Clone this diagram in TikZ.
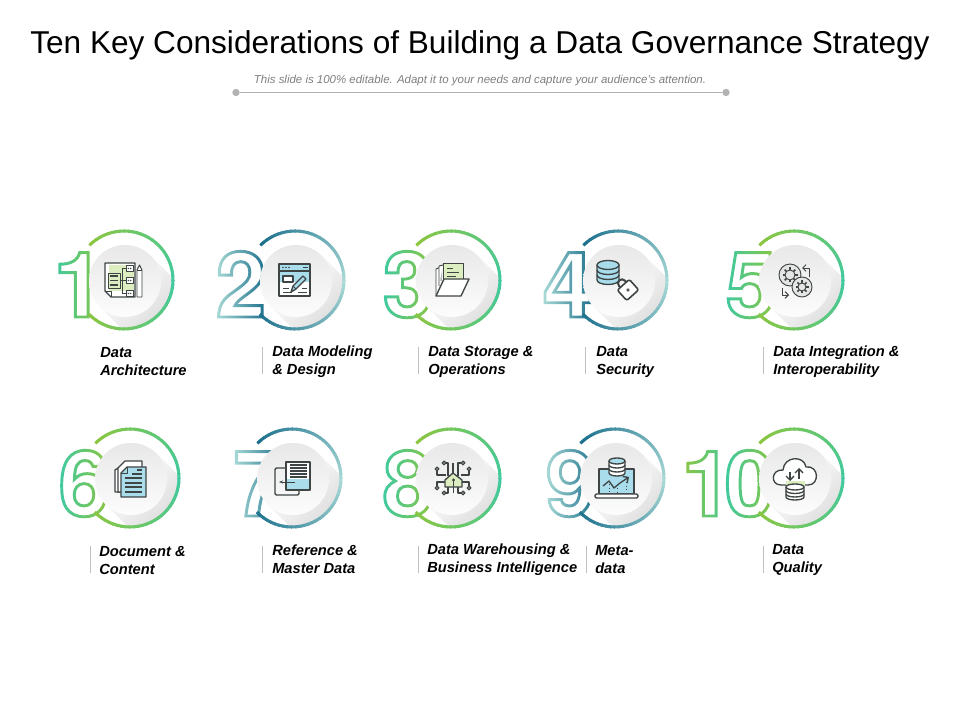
\documentclass[tikz,border=0pt]{standalone}
\usepackage{fontspec}
\setmainfont{Liberation Sans}
\newfontfamily\digitfont{TeX Gyre Heros}
\usetikzlibrary{arrows.meta}

\definecolor{limeA}{HTML}{8CC63F}
\definecolor{tealA}{HTML}{3FC9A0}
\definecolor{blueA}{HTML}{1B6F8C}
\definecolor{blueB}{HTML}{A9DAD6}
\definecolor{icondark}{HTML}{3F4444}
\definecolor{iconblue}{HTML}{A9DDEB}
\definecolor{icongreen}{HTML}{DCEEBF}
\definecolor{subgray}{HTML}{7F7F7F}

\tikzset{
  ringline/.style={line width=2.3pt},
  discnode/.style={circle,minimum size=54pt,inner sep=0pt,top color=black!9,bottom color=black!1},
  shadowfill/.style={left color=white,right color=black!25,shading angle=45},
  digit/.style={anchor=base,inner sep=0pt,font=\digitfont\bfseries\fontsize{68}{68}\selectfont},
  lbl/.style={anchor=west,align=left,inner sep=0pt,font=\bfseries\itshape\fontsize{11}{13.5}\selectfont},
  sepline/.style={draw=black!25,line width=.6pt},
  icon/.style={draw=icondark,line width=1pt,line join=round},
  iconthin/.style={draw=icondark,line width=.7pt,line join=round},
  enddot/.style={circle,fill=black!30,minimum size=5.5pt,inner sep=0pt},
}

% outlined digit, then a colour sweep laid over it
\newcommand{\numdigit}[6]{%
  \node[digit] (#1) at (#2,#3) {\special{pdf:code 1 Tr 2.2 w}#4\special{pdf:code 0 Tr 1 w}};
  \shade[left color=#5,right color=#6,blend mode=screen] (#2-25,#3-6) rectangle (#2+25,#3+76);
}

% shadow, open ring and disc
\newcommand{\ringitem}[5]{%
  \begin{scope}[shift={(#2,#3)}]
    \begin{scope}
      \clip (0,0) circle (48);
      \shade[shadowfill] (26.5,24.5) -- (-24.5,-26.5) -- (45,-96) -- (96,-45) -- cycle;
    \end{scope}
    \foreach \a in {135,130,...,-130}{
      \pgfmathsetmacro{\mixv}{abs(\a)/135*100}
      \draw[ringline,#4!\mixv!#5] (\a:49) arc[start angle=\a,end angle=\a-6,radius=49];
    }
    \node[discnode] (#1) at (1,-1) {};
  \end{scope}
}

\begin{document}
\begin{tikzpicture}[x=.75pt,y=.75pt]
  \useasboundingbox (0,0) rectangle (960,720);
  \fill[white] (0,0) rectangle (960,720);

  % Title
  \node[inner sep=0pt,font=\fontsize{23.7}{28}\selectfont] (title) at (480,675) {Ten Key Considerations of Building a Data Governance Strategy};
  \node[inner sep=0pt,text=subgray,font=\itshape\fontsize{8.6}{10}\selectfont] (subtitle) at (480,639) {This slide is 100\% editable. Adapt it to your needs and capture your audience's attention.};
  \node[enddot] (dotl) at (236,627.5) {};
  \node[enddot] (dotr) at (726,627.5) {};
  \draw[black!30,line width=.7pt] (dotl) -- (dotr);

  % Digits
  \numdigit{num1}{79}{403}{1}{tealA}{limeA}
  \numdigit{num2}{241}{403}{2}{blueB}{blueA}
  \numdigit{num3}{408}{403}{3}{tealA}{limeA}
  \numdigit{num4}{568}{403}{4}{blueB}{blueA}
  \numdigit{num5}{751}{403}{5}{tealA}{limeA}
  \numdigit{num6}{84}{204}{6}{tealA}{limeA}
  \numdigit{num7}{259}{204}{7}{blueB}{blueA}
  \numdigit{num8}{408}{204}{8}{tealA}{limeA}
  \numdigit{num9}{571}{204}{9}{blueB}{blueA}
  \numdigit{num10a}{707}{204}{1}{limeA}{tealA}
  \numdigit{num10b}{750}{204}{0}{tealA}{limeA}

  % Rings
  \ringitem{disc1}{124}{440}{limeA}{tealA}
  \ringitem{disc2}{295}{440}{blueA}{blueB}
  \ringitem{disc3}{451}{440}{limeA}{tealA}
  \ringitem{disc4}{618}{440}{blueA}{blueB}
  \ringitem{disc5}{794}{440}{limeA}{tealA}
  \ringitem{disc6}{130}{242}{limeA}{tealA}
  \ringitem{disc7}{292}{242}{blueA}{blueB}
  \ringitem{disc8}{451}{242}{limeA}{tealA}
  \ringitem{disc9}{615}{242}{blueA}{blueB}
  \ringitem{disc10}{794}{242}{limeA}{tealA}

  % Labels
  \node[lbl] (lab1) at (100,358.5) {Data\\Architecture};
  \node[lbl] (lab2) at (272,358.5) {Data Modeling\\\& Design};
  \node[lbl] (lab3) at (428,358.5) {Data Storage \&\\Operations};
  \node[lbl] (lab4) at (596,358.5) {Data\\Security};
  \node[lbl] (lab5) at (773,358.5) {Data Integration \&\\Interoperability};
  \node[lbl] (lab6) at (99,159.5) {Document \&\\Content};
  \node[lbl] (lab7) at (272,160.5) {Reference \&\\Master Data};
  \node[lbl] (lab8) at (427,160.5) {Data Warehousing \&\\Business Intelligence};
  \node[lbl] (lab9) at (595,160.5) {Meta-\\data};
  \node[lbl] (lab10) at (772,160.5) {Data\\Quality};

  % Separators
  \foreach \x in {262,418,585,763}
    \draw[sepline] (\x,373) -- (\x,346);
  \foreach \x in {90,262,418,586,763}
    \draw[sepline] (\x,174) -- (\x,147);

  % Icon 1
  \begin{scope}[shift={(disc1)}]
    \draw[icon,fill=white] (-20,18) -- (10,18) -- (10,-16) -- (-14,-16) -- (-20,-10) -- cycle;
    \fill[icongreen] (-16,16) rectangle (9,-10);
    \draw[iconthin] (-14,-16) -- (-14,-10) -- (-20,-10);
    \draw[iconthin] (-17,8) rectangle (-5,-7);
    \foreach \y in {5,.5,-4}
      \draw[icon,line width=1.4pt] (-15,\y) -- (-7,\y);
    \draw[iconthin] (-5,.5) -- (-3,.5) (-3,12.5) -- (-3,-12.5) (-3,12.5) -- (1,12.5) (-3,.5) -- (1,.5) (-3,-12.5) -- (1,-12.5);
    \foreach \y in {12.5,.5,-12.5}{
      \draw[iconthin,fill=white] (1,\y+2.8) rectangle (8,\y-2.8);
      \fill[icondark] (3.3,\y) circle (.8) (5.7,\y) circle (.8);
    }
    \draw[iconthin,fill=white] (12,11) -- (14.5,16) -- (17,11) -- (17,-16) -- (12,-16) -- cycle;
    \draw[iconthin] (12,11) -- (17,11);
  \end{scope}

  % Icon 2
  \begin{scope}[shift={(disc2)}]
    \draw[icon,fill=white] (-17,17) rectangle (14,-15);
    \fill[iconblue] (-16,16) rectangle (13,-1);
    \draw[icon] (-17,10) -- (14,10);
    \foreach \x in {-13,-10,-7}
      \fill[icondark] (\x,13.5) circle (.9);
    \draw[iconthin] (7,13.5) -- (12,13.5);
    \draw[icon,fill=white] (-13,5) rectangle (-3,-1);
    \draw[iconthin] (-13,-7) -- (-7,-7) (-13,-11) -- (-4,-11) (6,-7) -- (11,-7) (2,-11) -- (11,-11);
    \draw[icon,fill=iconblue] (-5,-11) -- (-3,-5) -- (7,5) -- (10,2) -- (0,-8) -- cycle;
    \draw[iconthin] (-3,-5) -- (0,-8);
  \end{scope}

  % Icon 3
  \begin{scope}[shift={(disc3)}]
    \draw[iconthin,fill=white] (-16,-14) -- (-16,12) -- (-11,14) -- (-11,0);
    \draw[iconthin,fill=white] (-13,-5) -- (-13,15) -- (-9,16);
    \draw[iconthin,fill=icongreen] (-9,18) -- (11,18) -- (11,1) -- (-9,1) -- cycle;
    \draw[iconthin] (-5,13) -- (1,13) (-5,9) -- (7,9) (-5,5) -- (4,5);
    \draw[icon,fill=white] (-16,-15) -- (9,-15) -- (17,2) -- (-8,2) -- cycle;
  \end{scope}

  % Icon 4
  \begin{scope}[shift={(disc4)}]
    \draw[icon,fill=iconblue] (-22,16) -- (-22,1) arc[start angle=180,end angle=360,x radius=11,y radius=4.5] -- (0,16);
    \draw[icon] (-22,11) arc[start angle=180,end angle=360,x radius=11,y radius=4.5];
    \draw[icon] (-22,6) arc[start angle=180,end angle=360,x radius=11,y radius=4.5];
    \draw[icon,fill=iconblue] (-11,16) ellipse (11 and 4.5);
    \begin{scope}[shift={(9,-9)},rotate=42]
      \draw[icon,line width=1.5pt] (-4,6) -- (-4,9) arc[start angle=180,end angle=0,radius=4] -- (4,6);
      \draw[icon,line width=1.2pt,fill=white,rounded corners=1.5pt] (-8,-7) rectangle (8,7);
      \draw[iconthin] (0,0) circle (1.3);
    \end{scope}
  \end{scope}

  % Icon 5
  \begin{scope}[shift={(disc5)}]
    \foreach \gx/\gy/\gr in {-5/6/11,7/-6/10}{
      \draw[iconthin,fill=white!90!black] (\gx,\gy) circle (\gr);
      \foreach \t in {0,45,...,315}
        \draw[icon,line width=1.2pt] (\gx,\gy) ++(\t:\gr-6) -- ++(\t:2.5);
      \draw[iconthin] (\gx,\gy) circle (\gr-6);
    }
    \draw[iconthin,-{Straight Barb[length=2.5pt]}] (14,4) -- (14,13) -- (7,13);
    \draw[iconthin,-{Straight Barb[length=2.5pt]}] (-13,-7) -- (-13,-14) -- (-6,-14);
  \end{scope}

  % Icon 6
  \begin{scope}[shift={(disc6)}]
    \draw[icon,fill=white] (-16,-13) -- (-16,9) -- (-6,15) -- (-6,-13) -- cycle;
    \draw[icon,fill=white] (-13,-13) -- (-13,11) -- (-6,18) -- (11,18) -- (11,-13) -- cycle;
    \draw[icon,fill=iconblue] (-10,-18) -- (-10,6) -- (-4,12) -- (15,12) -- (15,-18) -- cycle;
    \draw[iconthin] (-10,6) -- (-4,6) -- (-4,12);
    \foreach \y in {1,-4,-8,-13}
      \draw[icon] (-6,\y) -- (11,\y);
    \draw[icon] (6,9) -- (11,9) (1,5) -- (11,5);
  \end{scope}

  % Icon 7
  \begin{scope}[shift={(disc7)}]
    \draw[icon,rounded corners=1pt] (-18,11) rectangle (6,-16);
    \draw[icon,fill=white] (-7,17) rectangle (17,-11);
    \fill[iconblue] (-6,0) rectangle (16,-10);
    \foreach \y in {14,11,8,5,2}
      \draw[icon] (-3.5,\y) -- (14,\y);
    \draw[iconthin,-{Stealth[length=3pt]}] (2,-3) -- (-14,-3);
  \end{scope}

  % Icon 8
  \begin{scope}[shift={(disc8)}]
    \draw[icon,fill=icongreen] (-7,-8) -- (-7,-1) -- (1,6) -- (10,-1) -- (10,-8) -- cycle;
    \fill[icondark] (1.5,-1) circle (1.6);
    \draw[icon] (1.5,-8) -- (1.5,-2);
    \draw[icon] (-8,16) -- (-4,16) -- (-4,3) (11,16) -- (6,16) -- (6,3) (1,16) -- (1,6)
      (-15,10) -- (-15,4) -- (-6,4) (17,10) -- (17,4) -- (9,4)
      (-15,-9) -- (-15,-3) -- (-7,-3) (17,-9) -- (17,-3) -- (10,-3)
      (-8,-14) -- (-4,-14) -- (-4,-8) (11,-14) -- (6,-14) -- (6,-8) (1.5,-8) -- (1.5,-14);
    \foreach \px/\py in {-8/16,11/16,-15/10,17/10,-15/-9,17/-9,-8/-14,11/-14}
      \draw[icon,fill=white] (\px,\py) circle (1.8);
  \end{scope}

  % Icon 9
  \begin{scope}[shift={(disc9)}]
    \draw[icon,fill=iconblue] (-17,10) rectangle (18,-15);
    \draw[icon,fill=white,rounded corners=1pt] (-21,-15) rectangle (22,-19);
    \draw[icon,fill=white] (-7,18) -- (-7,6) arc[start angle=180,end angle=360,x radius=8,y radius=3] -- (9,18);
    \draw[icon] (-7,14) arc[start angle=180,end angle=360,x radius=8,y radius=3];
    \draw[icon] (-7,10) arc[start angle=180,end angle=360,x radius=8,y radius=3];
    \draw[icon,fill=iconblue] (1,18) ellipse (8 and 3);
    \draw[icon,-{Straight Barb[length=3pt]}] (-13,-7) -- (-7,-2) -- (-2,-9) -- (4,-4) -- (13,2);
    \draw[iconthin,dotted] (-7,-5) -- (-7,-13) (1,-9) -- (1,-13) (10,-3) -- (10,-13);
  \end{scope}

  % Icon 10
  \begin{scope}[shift={(disc10)}]
    \draw[icon,fill=white] (-14,-6) .. controls (-25,-6) and (-24,10) .. (-12,9)
      .. controls (-11,23) and (9,24) .. (11,12)
      .. controls (24,14) and (25,-6) .. (13,-6) -- cycle;
    \fill[icongreen] (-9,-2) rectangle (10,-8);
    \draw[icon,-{Straight Barb[length=3pt]}] (-5,7) -- (-5,-2);
    \draw[icon,-{Straight Barb[length=3pt]}] (4,0) -- (4,11);
    \draw[icon,fill=white] (-9,-8) -- (-9,-18) arc[start angle=180,end angle=360,x radius=9,y radius=3] -- (9,-8);
    \draw[icon] (-9,-11.5) arc[start angle=180,end angle=360,x radius=9,y radius=3];
    \draw[icon] (-9,-15) arc[start angle=180,end angle=360,x radius=9,y radius=3];
    \draw[icon,fill=white] (0,-8) ellipse (9 and 3);
  \end{scope}
\end{tikzpicture}
\end{document}
